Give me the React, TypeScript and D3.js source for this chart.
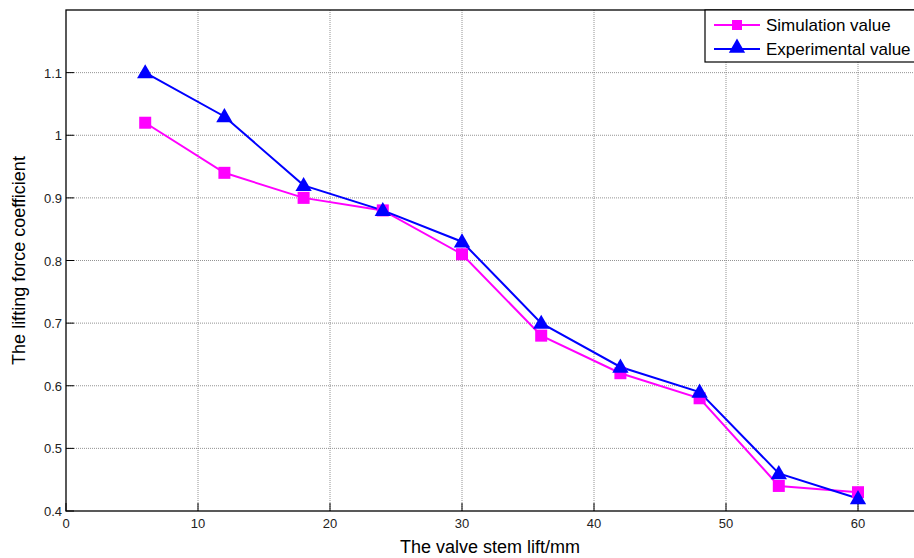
import * as React from "react";
import * as d3 from "d3";

// valve stem lift (mm)
const lift = [6, 12, 18, 24, 30, 36, 42, 48, 54, 60];
const simulation = [1.02, 0.94, 0.9, 0.88, 0.81, 0.68, 0.62, 0.58, 0.44, 0.43];
const experimental = [1.1, 1.03, 0.92, 0.88, 0.83, 0.7, 0.63, 0.59, 0.46, 0.42];
const xTicks = [0, 10, 20, 30, 40, 50, 60];
const yTicks = [0.4, 0.5, 0.6, 0.7, 0.8, 0.9, 1, 1.1];

const W = 914;
const H = 558;
const margin = { left: 66, top: 10, bottom: 47 };
const FONT = "'Liberation Sans', Arial, sans-serif";

export default function App() {
  // plot is wider than the window, right side gets clipped like the original
  const x = d3.scaleLinear().domain([0, 70]).range([margin.left, margin.left + 924]);
  const y = d3.scaleLinear().domain([0.4, 1.2]).range([H - margin.bottom, margin.top]);
  const line = d3.line<number>()
    .x((_, i) => x(lift[i]))
    .y(d => y(d));
  const x0 = x(0), x1 = x(70), y0 = y(0.4), y1 = y(1.2);
  const tri = d3.symbol().type(d3.symbolTriangle).size(115)();

  return (
    <svg width={W} height={H} style={{ position: "absolute", left: 0, top: 0, background: "#fff" }}>
      <rect width={W} height={H} fill="#fff" />
      {/* grid */}
      <g stroke="#777" strokeWidth={0.8} strokeDasharray="1,1">
        {xTicks.slice(1).map(t => <line key={t} x1={x(t)} x2={x(t)} y1={y0} y2={y1} />)}
        {yTicks.slice(1).map(t => <line key={t} x1={x0} x2={x1} y1={y(t)} y2={y(t)} />)}
      </g>
      {/* ticks */}
      <g stroke="#000" strokeWidth={1}>
        {xTicks.map(t => <line key={t} x1={x(t)} x2={x(t)} y1={y0} y2={y0 - 8} />)}
        {yTicks.map(t => <line key={t} x1={x0} x2={x0 + 8} y1={y(t)} y2={y(t)} />)}
      </g>
      <rect x={x0} y={y1} width={x1 - x0} height={y0 - y1} fill="none" stroke="#000" strokeWidth={1.3} />
      <g fontFamily={FONT} fontSize={13} fill="#222">
        {xTicks.map(t => <text key={t} x={x(t)} y={y0 + 17} textAnchor="middle">{t}</text>)}
        {yTicks.map(t => <text key={t} x={x0 - 4} y={y(t) + 5} textAnchor="end">{t}</text>)}
      </g>
      {/* series */}
      <path d={line(simulation) || ""} fill="none" stroke="#ff00ff" strokeWidth={2} />
      <path d={line(experimental) || ""} fill="none" stroke="#0000ff" strokeWidth={2} />
      {simulation.map((v, i) => (
        <rect key={i} x={x(lift[i]) - 6} y={y(v) - 6} width={12} height={12} fill="#ff00ff" />
      ))}
      {experimental.map((v, i) => (
        <path key={i} d={tri || ""} transform={`translate(${x(lift[i])},${y(v) + 1})`} fill="#0000ff" />
      ))}
      {/* legend */}
      <g fontFamily={FONT} fontSize={17} fill="#000">
        <rect x={705} y={10} width={260} height={52} fill="#fff" stroke="#000" strokeWidth={1.2} />
        <line x1={714} x2={760} y1={25} y2={25} stroke="#ff00ff" strokeWidth={2} />
        <rect x={732} y={20} width={10} height={10} fill="#ff00ff" />
        <text x={766} y={31}>Simulation value</text>
        <line x1={714} x2={760} y1={49} y2={49} stroke="#0000ff" strokeWidth={2} />
        <path d={tri || ""} transform="translate(737,48)" fill="#0000ff" />
        <text x={766} y={55}>Experimental value</text>
      </g>
      {/* axis titles */}
      <text x={490} y={553} textAnchor="middle" fontFamily={FONT} fontSize={18}>The valve stem lift/mm</text>
      <text transform={`translate(25,${(y0 + y1) / 2}) rotate(-90)`} textAnchor="middle" fontFamily={FONT} fontSize={18}>
        The lifting force coefficient
      </text>
    </svg>
  );
}
